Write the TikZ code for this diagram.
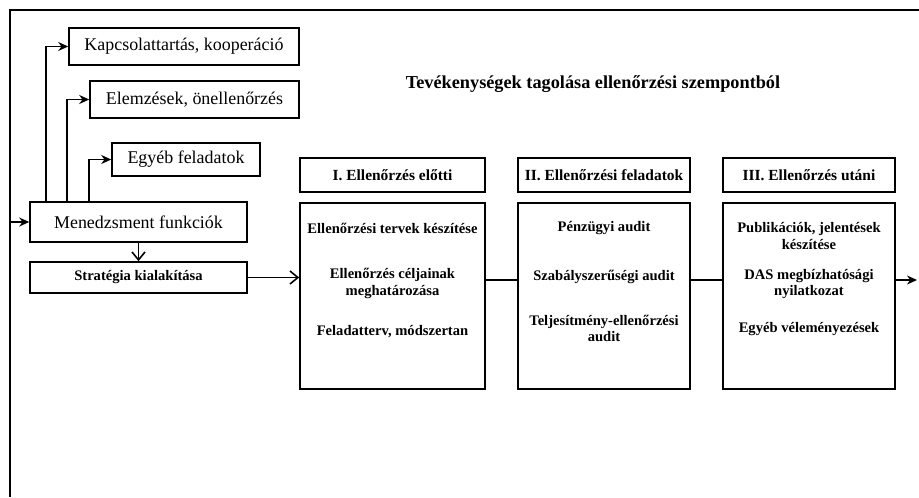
\documentclass[tikz,border=0pt]{standalone}
\usepackage{fontspec}
\setmainfont{Liberation Serif}
\usetikzlibrary{positioning, arrows.meta}
\begin{document}
\begin{tikzpicture}[>={Stealth[length=2mm, width=1.8mm]}, x=0.02cm, y=-0.02cm, line width=0.9pt]
                \tikzset{box/.style={draw, inner sep=1pt, align=center, font=\fontsize{10.2}{12}\selectfont},
                         head/.style={draw, inner sep=1pt, font=\bfseries\fontsize{8.8}{10}\selectfont, minimum height=34*\dpx cm},
                         body/.style={draw, minimum height=186*\dpx cm},
                         item/.style={align=center, inner sep=0pt, font=\bfseries\fontsize{8.3}{9.4}\selectfont},
                         title/.style={font=\bfseries\fontsize{10.4}{12}\selectfont},
                         vtip/.style={-{Straight Barb[length=1.6mm, width=2.6mm]}}}
                \newcommand{\dpx}{0.02}
                \useasboundingbox (0,0) rectangle (919,497);
                % outer frame
                \coordinate (fa) at (919,10);
                \coordinate (fb) at (10,10);
                \coordinate (fc) at (10,497);
                \draw (fa) -- (fb) -- (fc);
                \node[title] (ttl) at (593,84) {Tevékenységek tagolása ellenőrzési szempontból};
                % management side
                \node[box, minimum width=230*\dpx cm, minimum height=37*\dpx cm] (kap) at (184,46.5) {Kapcsolattartás, kooperáció};
                \node[box, minimum width=209*\dpx cm, minimum height=37*\dpx cm] (elem) at (194.5,99.5) {Elemzések, önellenőrzés};
                \node[box, minimum width=148*\dpx cm, minimum height=33*\dpx cm] (egyeb) at (186,159.5) {Egyéb feladatok};
                \node[box, minimum width=217*\dpx cm, minimum height=40*\dpx cm] (men) at (138.5,222) {Menedzsment funkciók};
                \node[box, minimum width=217*\dpx cm, minimum height=31*\dpx cm, font=\bfseries\fontsize{8.3}{9}\selectfont] (strat) at (138.5,277.5) {Stratégia kialakítása};
                \coordinate (in) at (10,222);
                \draw[->] (in) -- (men.west);
                \draw[->] ([xshift=17*\dpx cm]men.north west) |- (kap);
                \draw[->] ([xshift=38*\dpx cm]men.north west) |- (elem);
                \draw[->] ([xshift=60*\dpx cm]men.north west) |- (egyeb);
                \draw[vtip] (men) -- (strat);
                % control phases
                \foreach \n/\cx/\w/\head in {1/392.5/185/{I. Ellenőrzés előtti}, 2/604/172/{II. Ellenőrzési feladatok}, 3/809/172/{III. Ellenőrzés utáni}} {
                    \node[head, minimum width=\w*\dpx cm] (h\n) at (\cx,175) {\head};
                    \node[body, minimum width=\w*\dpx cm] (b\n) at (\cx,296) {};
                }
                \foreach [count=\i] \n/\y/\txt in {1/228/{Ellenőrzési tervek készítése}, 1/283.5/{Ellenőrzés céljainak\\meghatározása}, 1/332/{Feladatterv, módszertan},
                                                   2/228/{Pénzügyi audit}, 2/277/{Szabályszerűségi audit}, 2/328.5/{Teljesítmény-ellenőrzési\\audit},
                                                   3/236/{Publikációk, jelentések\\készítése}, 3/284/{DAS megbízhatósági\\nyilatkozat}, 3/329/{Egyéb véleményezések}} {
                    \node[item] (t\i) at (b\n |- 0,\y) {\txt};
                }
                \coordinate (out) at (917,280);
                \draw[vtip] (strat.east) -- (strat.east -| b1.west);
                \draw (b1.east |- out) -- (b2.west |- out);
                \draw (b2.east |- out) -- (b3.west |- out);
                \draw[->] (b3.east |- out) -- (out);
            \end{tikzpicture}
\end{document}
